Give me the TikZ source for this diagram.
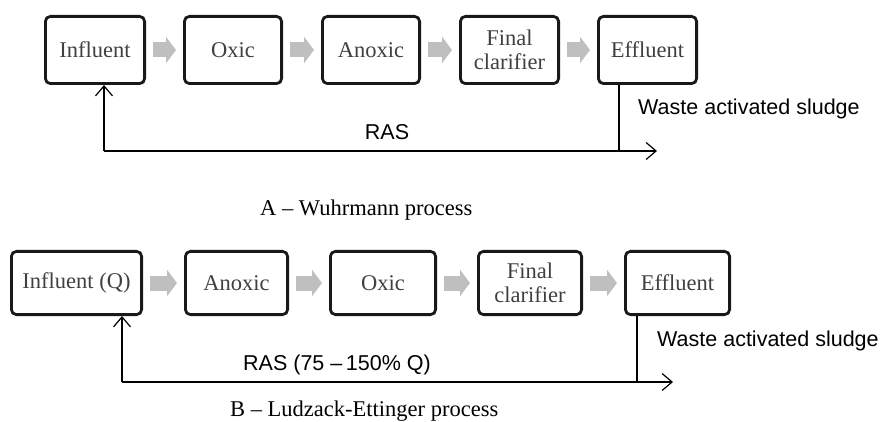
\documentclass[tikz,border=0pt]{standalone}
\usepackage{fontspec}
\setmainfont{Liberation Serif}
\newfontfamily\arialfont{Liberation Sans}
\usetikzlibrary{arrows.meta,calc}
\begin{document}
\begin{tikzpicture}[x=1pt,y=-1pt,
  box/.style={draw=black!90, line width=2.8pt, rounded corners=5pt, inner sep=0pt,
    align=center, text=black!75, font=\fontsize{22.5}{24}\selectfont},
  flow/.style={draw=black!25, line width=15pt,
    -{Triangle[length=10pt,width=26pt]}, shorten <=6.5pt, shorten >=7pt},
  ret/.style={draw=black, line width=1.2pt},
  retarrow/.style={ret, -{Straight Barb[length=10pt,width=17pt,line width=1.2pt]}},
  lbl/.style={font=\arialfont\fontsize{21.5}{24}\selectfont, inner sep=0pt},
  captxt/.style={font=\fontsize{22.5}{26}\selectfont, inner sep=0pt}]
\path[use as bounding box] (0,0) rectangle (881,422);

% ---------- A: Wuhrmann ----------
\node[box, minimum width=99.2pt, minimum height=67.2pt] (a1) at (95,50) {Influent};
\node[box, minimum width=97.2pt, minimum height=67.2pt] (a2) at (233,50) {Oxic};
\node[box, minimum width=97.2pt, minimum height=67.2pt] (a3) at (371,50) {Anoxic};
\node[box, minimum width=98.2pt, minimum height=67.2pt] (a4) at (509.5,50) {Final\\clarifier};
\node[box, minimum width=98.2pt, minimum height=67.2pt] (a5) at (647.5,50) {Effluent};
\draw[flow] (a1) -- (a2);
\draw[flow] (a2) -- (a3);
\draw[flow] (a3) -- (a4);
\draw[flow] (a4) -- (a5);

\coordinate (ra) at (104,151);
\coordinate (wa) at (619,151);
\coordinate (ea) at (657,151);
\draw[retarrow] (ra) -- (ra |- a1.south);
\draw[retarrow] (ra) -- (ea);
\draw[ret] (a5.south -| wa) -- (wa);
\node[lbl] (rasA) at (387,132) {RAS};
\node[lbl, anchor=west] (wasA) at (638,109) {Waste activated sludge};
\node[captxt, anchor=west] (capA) at (260,210) {A -- Wuhrmann process};

% ---------- B: Ludzack-Ettinger ----------
\node[box, minimum width=130.2pt, minimum height=63.2pt] (b1) at (76.5,283) {Influent (Q)};
\node[box, minimum width=102.2pt, minimum height=63.2pt] (b2) at (236.5,283) {Anoxic};
\node[box, minimum width=105.2pt, minimum height=63.2pt] (b3) at (383,283) {Oxic};
\node[box, minimum width=103.2pt, minimum height=63.2pt] (b4) at (530,283) {Final\\clarifier};
\node[box, minimum width=104.2pt, minimum height=63.2pt] (b5) at (677.5,283) {Effluent};
\draw[flow] (b1) -- (b2);
\draw[flow] (b2) -- (b3);
\draw[flow] (b3) -- (b4);
\draw[flow] (b4) -- (b5);

\coordinate (rb) at (122,382);
\coordinate (wb) at (637,382);
\coordinate (eb) at (673,382);
\draw[retarrow] (rb) -- (rb |- b1.south);
\draw[retarrow] (rb) -- (eb);
\draw[ret] (b5.south -| wb) -- (wb);
\node[lbl, anchor=west] (rasB) at (243,365) {RAS (75 –\,150\% Q)};
\node[lbl, anchor=west] (wasB) at (657,341) {Waste activated sludge};
\node[captxt, anchor=west] (capB) at (230,411) {B -- Ludzack-Ettinger process};
\end{tikzpicture}
\end{document}
